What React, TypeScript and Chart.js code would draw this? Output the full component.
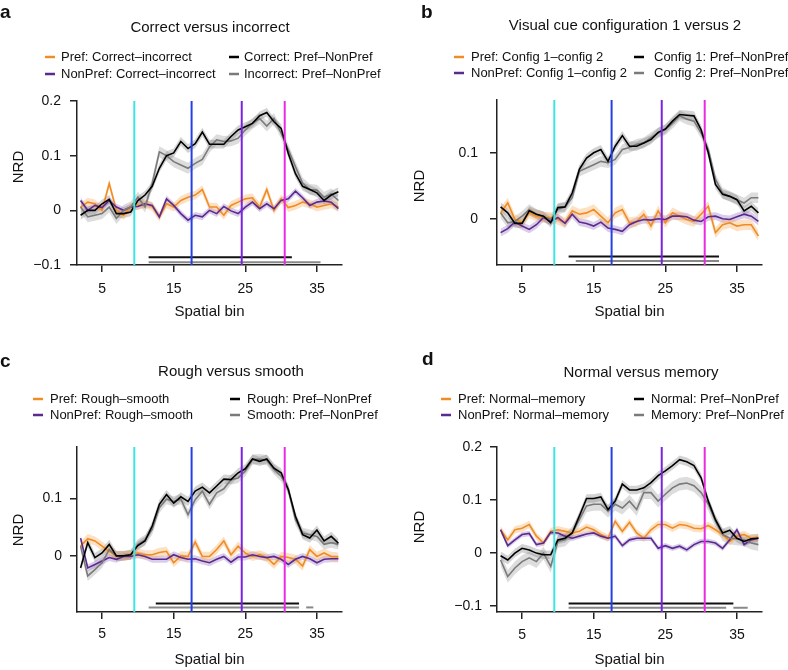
import React, { useEffect, useRef } from 'react';
import { Chart, registerables } from 'chart.js';
Chart.register(...registerables);

const FONT = '"Liberation Sans", Arial, Helvetica, sans-serif';

// ---------- data ----------
const bins = [2, 3, 4, 5, 6, 7, 8, 9, 10, 11, 12, 13, 14, 15, 16, 17, 18, 19, 20, 21, 22, 23, 24, 25, 26, 27, 28, 29, 30, 31, 32, 33, 34, 35, 36, 37, 38];
const xTickValues = [5, 15, 25, 35];
const cueBins = [9.5, 17.5, 24.5, 30.5];

// panel a: Correct versus incorrect
const aPref = [0.006, 0.015, 0.012, 0, 0.049, 0, -0.009, 0.006, 0.009, 0.012, 0.007, -0.012, 0.012, 0.006, 0.018, 0.024, 0.028, 0.038, 0.006, 0.006, -0.009, 0.009, 0.015, 0.021, 0.023, 0.006, 0.038, 0, 0.021, 0.005, 0.009, 0.015, 0.012, 0.006, 0.009, 0.012, 0.006];
const aNonPref = [0.018, 0, 0.009, 0.005, 0.018, 0.006, 0, 0.006, 0.007, 0.012, 0.009, -0.012, 0.021, 0.009, -0.006, -0.018, -0.009, -0.012, 0, -0.006, 0.007, -0.001, -0.006, 0.006, 0.015, 0.003, 0.012, 0.003, 0.018, 0.021, 0.035, 0.023, 0.009, 0.015, 0.017, 0.015, 0.003];
const aCorrect = [-0.009, 0, 0, 0.012, 0.02, -0.006, -0.006, -0.003, 0.018, 0.028, 0.044, 0.077, 0.1, 0.105, 0.126, 0.113, 0.122, 0.143, 0.121, 0.121, 0.121, 0.135, 0.147, 0.153, 0.159, 0.173, 0.179, 0.162, 0.15, 0.104, 0.067, 0.044, 0.038, 0.032, 0.018, 0.028, 0.034];
const aIncorrect = [0.006, -0.012, -0.009, -0.006, 0.006, -0.015, 0, 0.006, 0.024, 0.006, 0.049, 0.107, 0.1, 0.089, 0.083, 0.077, 0.086, 0.093, 0.116, 0.129, 0.126, 0.127, 0.132, 0.147, 0.159, 0.168, 0.154, 0.168, 0.141, 0.111, 0.08, 0.05, 0.038, 0.037, 0.024, 0.03, 0.018];
const aSem = [0.008, 0.006, 0.008, 0.01];
const aYTicks = [-0.1, 0, 0.1, 0.2];
const aSigBlack = [[11.5, 31.5, -0.086]];
const aSigGray = [[11.5, 35.5, -0.095]];

// panel b: Visual cue configuration 1 versus 2
const bPref = [0.009, 0.024, -0.001, -0.006, 0.009, 0.004, 0.002, 0.002, -0.001, -0.006, 0.012, 0.007, 0.009, 0.014, 0.004, -0.006, 0.009, 0.014, -0.006, -0.004, 0.007, -0.011, 0.012, -0.006, 0.009, 0.004, -0.001, -0.004, 0.007, 0.019, -0.021, -0.009, -0.006, -0.011, -0.009, -0.009, -0.026];
const bNonPref = [-0.021, -0.015, -0.005, -0.011, -0.016, -0.009, 0.002, -0.004, 0.002, -0.007, 0.007, -0.005, -0.007, -0.011, -0.005, -0.014, -0.016, -0.019, -0.009, -0.004, -0.001, -0.002, 0, -0.001, 0.004, 0.004, 0.003, -0.002, -0.004, 0.003, 0.004, 0, -0.001, 0.003, 0.007, 0.004, -0.004];
const bConfig1 = [0.018, 0.009, -0.007, -0.007, 0.012, 0.007, 0.004, -0.006, 0.017, 0.018, 0.039, 0.075, 0.092, 0.1, 0.105, 0.087, 0.11, 0.126, 0.11, 0.11, 0.115, 0.12, 0.131, 0.136, 0.148, 0.158, 0.157, 0.156, 0.135, 0.1, 0.052, 0.037, 0.034, 0.029, 0.012, 0.019, 0.009];
const bConfig2 = [0.009, -0.006, -0.004, 0.004, 0.014, 0.007, 0.003, -0.001, 0.014, 0.018, 0.032, 0.072, 0.077, 0.082, 0.087, 0.085, 0.09, 0.105, 0.108, 0.113, 0.115, 0.123, 0.13, 0.135, 0.145, 0.156, 0.151, 0.148, 0.13, 0.105, 0.06, 0.039, 0.034, 0.029, 0.024, 0.032, 0.032];
const bSem = [0.008, 0.006, 0.007, 0.008];
const bYTicks = [0, 0.1];
const bSigBlack = [[11.5, 32.5, -0.057]];
const bSigGray = [[12.5, 32.5, -0.064]];

// panel c: Rough versus smooth
const cPref = [0.017, 0.03, 0.026, 0.017, 0.008, 0, 0, 0.002, 0.005, 0.002, 0.002, 0.006, 0.008, -0.012, 0, -0.001, 0.024, -0.001, -0.001, 0.011, 0.026, 0.002, 0.017, 0.005, -0.001, 0.002, -0.003, -0.015, -0.001, -0.003, -0.006, -0.018, 0.011, -0.001, 0.005, -0.001, -0.002];
const cNonPref = [0.031, -0.021, -0.015, -0.009, -0.003, -0.006, -0.001, -0.001, 0.002, -0.001, -0.006, -0.006, -0.006, 0.002, -0.003, -0.006, -0.005, -0.009, -0.012, -0.006, -0.001, -0.011, -0.002, -0.002, 0.002, -0.001, -0.003, -0.001, -0.006, -0.015, -0.006, -0.001, -0.005, -0.012, -0.006, -0.005, -0.005];
const cRough = [-0.021, 0.023, -0.003, 0.005, 0.02, 0, 0, 0.002, 0.018, 0.026, 0.052, 0.09, 0.107, 0.092, 0.103, 0.095, 0.113, 0.12, 0.11, 0.122, 0.134, 0.133, 0.145, 0.152, 0.169, 0.165, 0.169, 0.153, 0.145, 0.116, 0.069, 0.037, 0.031, 0.045, 0.026, 0.034, 0.022];
const cSmooth = [0.017, -0.035, -0.024, -0.012, 0.011, 0, 0, 0.002, 0.02, 0.028, 0.046, 0.084, 0.099, 0.095, 0.099, 0.072, 0.098, 0.113, 0.09, 0.11, 0.117, 0.133, 0.136, 0.148, 0.168, 0.169, 0.167, 0.151, 0.139, 0.116, 0.063, 0.04, 0.037, 0.034, 0.02, 0.023, 0.02];
const cSem = [0.008, 0.006, 0.008, 0.009];
const cYTicks = [0, 0.1];
const cSigBlack = [[12.5, 32.5, -0.083]];
const cSigGray = [[11.5, 32.5, -0.09], [33.5, 34.5, -0.09]];

// panel d: Normal versus memory
const dPref = [0.044, 0.025, 0.044, 0.047, 0.054, 0.032, 0.019, 0.041, 0.044, 0.041, 0.038, 0.041, 0.049, 0.044, 0.035, 0.028, 0.06, 0.041, 0.058, 0.038, 0.028, 0.044, 0.054, 0.054, 0.047, 0.054, 0.052, 0.047, 0.046, 0.052, 0.044, 0.035, 0.022, 0.032, 0.035, 0.028, 0.03];
const dNonPref = [0.044, 0.014, 0.025, 0.035, 0.037, 0.016, 0.019, 0.039, 0.038, 0.032, 0.028, 0.032, 0.036, 0.038, 0.032, 0.028, 0.032, 0.014, 0.025, 0.028, 0.028, 0.028, 0.009, 0.014, 0.009, 0.013, 0.006, 0.016, 0.022, 0.022, 0.019, 0.009, 0.025, 0.044, 0.016, 0.025, 0.028];
const dNormal = [-0.005, -0.013, 0, 0.009, 0.006, 0, -0.003, -0.003, 0.025, 0.028, 0.038, 0.07, 0.103, 0.103, 0.106, 0.082, 0.098, 0.13, 0.119, 0.119, 0.123, 0.133, 0.146, 0.155, 0.165, 0.176, 0.172, 0.165, 0.142, 0.098, 0.063, 0.038, 0.043, 0.028, 0.022, 0.027, 0.028];
const dMemory = [-0.013, -0.044, -0.028, -0.016, -0.009, -0.016, 0, -0.025, 0.022, 0.025, 0.038, 0.063, 0.089, 0.092, 0.092, 0.079, 0.092, 0.085, 0.098, 0.082, 0.114, 0.114, 0.098, 0.111, 0.123, 0.13, 0.132, 0.127, 0.114, 0.092, 0.06, 0.035, 0.028, 0.027, 0.025, 0.019, 0.016];
const dSem = [0.007, 0.005, 0.008, 0.012];
const dYTicks = [-0.1, 0, 0.1, 0.2];
const dSigBlack = [[11.5, 34.5, -0.095]];
const dSigGray = [[11.5, 33.5, -0.103], [34.5, 36.5, -0.103]];

// ---------- styles ----------
const ORANGE = '#F08C24';
const PURPLE = '#5B2A8E';
const BLACK = '#000000';
const GRAY = '#7A7A7A';
const BAND = ['rgba(246,168,85,0.35)', 'rgba(140,100,190,0.32)', 'rgba(110,110,110,0.30)', 'rgba(150,150,150,0.32)'];
const LINE = [ORANGE, PURPLE, BLACK, GRAY];
const CUE_COLORS = ['#3DE4E4', '#2440E4', '#7A22E2', '#E82AE2'];
const AXIS = '#222222';

type Panel = {
  letter: string; title: string; legend: string[]; series: number[][]; sem: number[];
  yMin: number; yMax: number; yTicks: number[]; sigBlack: number[][]; sigGray: number[][];
  ox: number; oy: number; L: number; R: number; T: number; B: number;
  letterX: number; letterY: number; titleX: number; titleY: number; rows: number[];
  col1: number[]; col2: number[]; nrdX: number; nrdY: number; xTitlePad: number; xTickPad: number; yTickPad: number;
};

const panels: Panel[] = [
  {
    letter: 'a', title: 'Correct versus incorrect',
    legend: ['Pref: Correct\u2013incorrect', 'NonPref: Correct\u2013incorrect', 'Correct: Pref\u2013NonPref', 'Incorrect: Pref\u2013NonPref'],
    series: [aPref, aNonPref, aCorrect, aIncorrect], sem: aSem,
    yMin: -0.1, yMax: 0.2, yTicks: aYTicks, sigBlack: aSigBlack, sigGray: aSigGray,
    ox: 0, oy: 0, L: 77, R: 342, T: 101, B: 265,
    letterX: 0, letterY: 13, titleX: 210, titleY: 28, rows: [57, 74],
    col1: [45, 61], col2: [229, 244], nrdX: 19, nrdY: 167, xTitlePad: 14, xTickPad: 9, yTickPad: 9,
  },
  {
    letter: 'b', title: 'Visual cue configuration 1 versus 2',
    legend: ['Pref: Config 1\u2013config 2', 'NonPref: Config 1\u2013config 2', 'Config 1: Pref\u2013NonPref', 'Config 2: Pref\u2013NonPref'],
    series: [bPref, bNonPref, bConfig1, bConfig2], sem: bSem,
    yMin: -0.07, yMax: 0.18, yTicks: bYTicks, sigBlack: bSigBlack, sigGray: bSigGray,
    ox: 394, oy: 0, L: 103, R: 368, T: 100, B: 265,
    letterX: 27, letterY: 13, titleX: 231, titleY: 26, rows: [57, 73],
    col1: [60, 77], col2: [240, 260], nrdX: 26, nrdY: 186, xTitlePad: 14, xTickPad: 9, yTickPad: 12,
  },
  {
    letter: 'c', title: 'Rough versus smooth',
    legend: ['Pref: Rough\u2013smooth', 'NonPref: Rough\u2013smooth', 'Rough: Pref\u2013NonPref', 'Smooth: Pref\u2013NonPref'],
    series: [cPref, cNonPref, cRough, cSmooth], sem: cSem,
    yMin: -0.098, yMax: 0.19, yTicks: cYTicks, sigBlack: cSigBlack, sigGray: cSigGray,
    ox: 0, oy: 335, L: 77, R: 342, T: 112, B: 277,
    letterX: 0, letterY: 27, titleX: 231, titleY: 37, rows: [64, 80],
    col1: [33, 50], col2: [230, 247], nrdX: 19, nrdY: 195, xTitlePad: 1, xTickPad: 7, yTickPad: 8,
  },
  {
    letter: 'd', title: 'Normal versus memory',
    legend: ['Pref: Normal\u2013memory', 'NonPref: Normal\u2013memory', 'Normal: Pref\u2013NonPref', 'Memory: Pref\u2013NonPref'],
    series: [dPref, dNonPref, dNormal, dMemory], sem: dSem,
    yMin: -0.111, yMax: 0.2, yTicks: dYTicks, sigBlack: dSigBlack, sigGray: dSigGray,
    ox: 394, oy: 335, L: 103, R: 368, T: 112, B: 277,
    letterX: 28, letterY: 25, titleX: 247, titleY: 38, rows: [64, 80],
    col1: [47, 64], col2: [240, 257], nrdX: 26, nrdY: 192, xTitlePad: 1, xTickPad: 8, yTickPad: 8,
  },
];

const W = 394;
const H = 335;

function fmtY(v: number): string {
  if (Math.abs(v) < 1e-9) return '0';
  return (v < 0 ? '\u2212' : '') + Math.abs(v).toFixed(1);
}

function buildChart(canvas: HTMLCanvasElement, p: Panel) {
  const datasets: any[] = [];
  const pts = (vals: number[], off: number) => bins.map((b, i) => ({ x: b, y: vals[i] + off }));

  // cue lines (vertical)
  cueBins.forEach((b, i) => {
    datasets.push({ data: [{ x: b, y: p.yMin }, { x: b, y: p.yMax }], borderColor: CUE_COLORS[i], borderWidth: 2, pointRadius: 0, order: 0 });
  });
  // significance bars
  p.sigBlack.forEach((s) => {
    datasets.push({ data: [{ x: s[0], y: s[2] }, { x: s[1], y: s[2] }], borderColor: '#111', borderWidth: 2, pointRadius: 0, order: 1 });
  });
  p.sigGray.forEach((s) => {
    datasets.push({ data: [{ x: s[0], y: s[2] }, { x: s[1], y: s[2] }], borderColor: '#888', borderWidth: 2, pointRadius: 0, order: 1 });
  });
  // mean lines: black over gray over purple over orange
  const lineOrder = [5, 4, 2, 3];
  p.series.forEach((vals, k) => {
    datasets.push({ data: pts(vals, 0), borderColor: LINE[k], borderWidth: 1.6, pointRadius: 0, tension: 0, order: lineOrder[k] });
  });
  // SEM bands
  p.series.forEach((vals, k) => {
    datasets.push({ data: pts(vals, p.sem[k]), borderWidth: 0, borderColor: 'rgba(0,0,0,0)', pointRadius: 0, fill: false, order: 10 + k });
    datasets.push({ data: pts(vals, -p.sem[k]), borderWidth: 0, borderColor: 'rgba(0,0,0,0)', pointRadius: 0, fill: '-1', backgroundColor: BAND[k], order: 10 + k });
  });

  const textPlugin = {
    id: 'panelText',
    afterDraw(chart: any) {
      const ctx = chart.ctx as CanvasRenderingContext2D;
      ctx.save();
      ctx.fillStyle = '#111';
      ctx.textBaseline = 'middle';
      // letter
      ctx.font = `bold 19px ${FONT}`;
      ctx.textAlign = 'left';
      ctx.fillText(p.letter, p.letterX, p.letterY);
      // title
      ctx.font = `15px ${FONT}`;
      ctx.textAlign = 'center';
      ctx.fillText(p.title, p.titleX, p.titleY);
      // legend
      ctx.font = `13px ${FONT}`;
      ctx.textAlign = 'left';
      const cols = [p.col1, p.col1, p.col2, p.col2];
      const rows = [p.rows[0], p.rows[1], p.rows[0], p.rows[1]];
      for (let k = 0; k < 4; k++) {
        ctx.strokeStyle = LINE[k];
        ctx.lineWidth = 2.5;
        ctx.beginPath();
        ctx.moveTo(cols[k][0], rows[k]);
        ctx.lineTo(cols[k][0] + 10, rows[k]);
        ctx.stroke();
        ctx.fillStyle = '#111';
        ctx.fillText(p.legend[k], cols[k][1], rows[k]);
      }
      // y-axis title
      ctx.font = `15px ${FONT}`;
      ctx.translate(p.nrdX, p.nrdY);
      ctx.rotate(-Math.PI / 2);
      ctx.textAlign = 'center';
      ctx.fillText('NRD', 0, 0);
      ctx.restore();
    },
  };

  const gridCfg = { display: true, drawOnChartArea: false, drawTicks: true, tickLength: 7, color: AXIS, lineWidth: 1.5 };
  const borderCfg = { display: true, color: AXIS, width: 1.5 };

  return new Chart(canvas, {
    type: 'line',
    data: { datasets },
    plugins: [textPlugin],
    options: {
      animation: false,
      responsive: false,
      events: [],
      layout: { padding: { left: 0, top: p.T, right: W - p.R, bottom: 0 } },
      plugins: { legend: { display: false }, tooltip: { enabled: false }, title: { display: false } },
      scales: {
        x: {
          type: 'linear', min: 1.5, max: 38.5,
          afterBuildTicks: (s: any) => { s.ticks = xTickValues.map((v) => ({ value: v })); },
          afterFit: (s: any) => { s.height = H - p.B; },
          grid: gridCfg, border: borderCfg,
          ticks: { color: '#111', font: { family: FONT, size: 14 }, padding: p.xTickPad, autoSkip: false, maxRotation: 0, callback: (v: any) => String(v) },
          title: { display: true, text: 'Spatial bin', color: '#111', font: { family: FONT, size: 15 }, padding: { top: 0, bottom: p.xTitlePad } },
        },
        y: {
          type: 'linear', min: p.yMin, max: p.yMax,
          afterBuildTicks: (s: any) => { s.ticks = p.yTicks.map((v) => ({ value: v })); },
          afterFit: (s: any) => { s.width = p.L; },
          grid: gridCfg, border: borderCfg,
          ticks: { color: '#111', font: { family: FONT, size: 14 }, padding: p.yTickPad, callback: (v: any) => fmtY(Number(v)) },
        },
      },
    } as any,
  });
}

function PanelChart({ p }: { p: Panel }) {
  const ref = useRef<HTMLCanvasElement | null>(null);
  useEffect(() => {
    if (!ref.current) return;
    const chart = buildChart(ref.current, p);
    return () => chart.destroy();
  }, [p]);
  return (
    <canvas
      ref={ref}
      width={W}
      height={H}
      style={{ position: 'absolute', left: p.ox, top: p.oy, width: W, height: H }}
    />
  );
}

export default function App() {
  return (
    <div style={{ position: 'absolute', left: 0, top: 0, width: 788, height: 670, background: '#fff', overflow: 'hidden' }}>
      {panels.map((p) => (
        <PanelChart key={p.letter} p={p} />
      ))}
    </div>
  );
}
